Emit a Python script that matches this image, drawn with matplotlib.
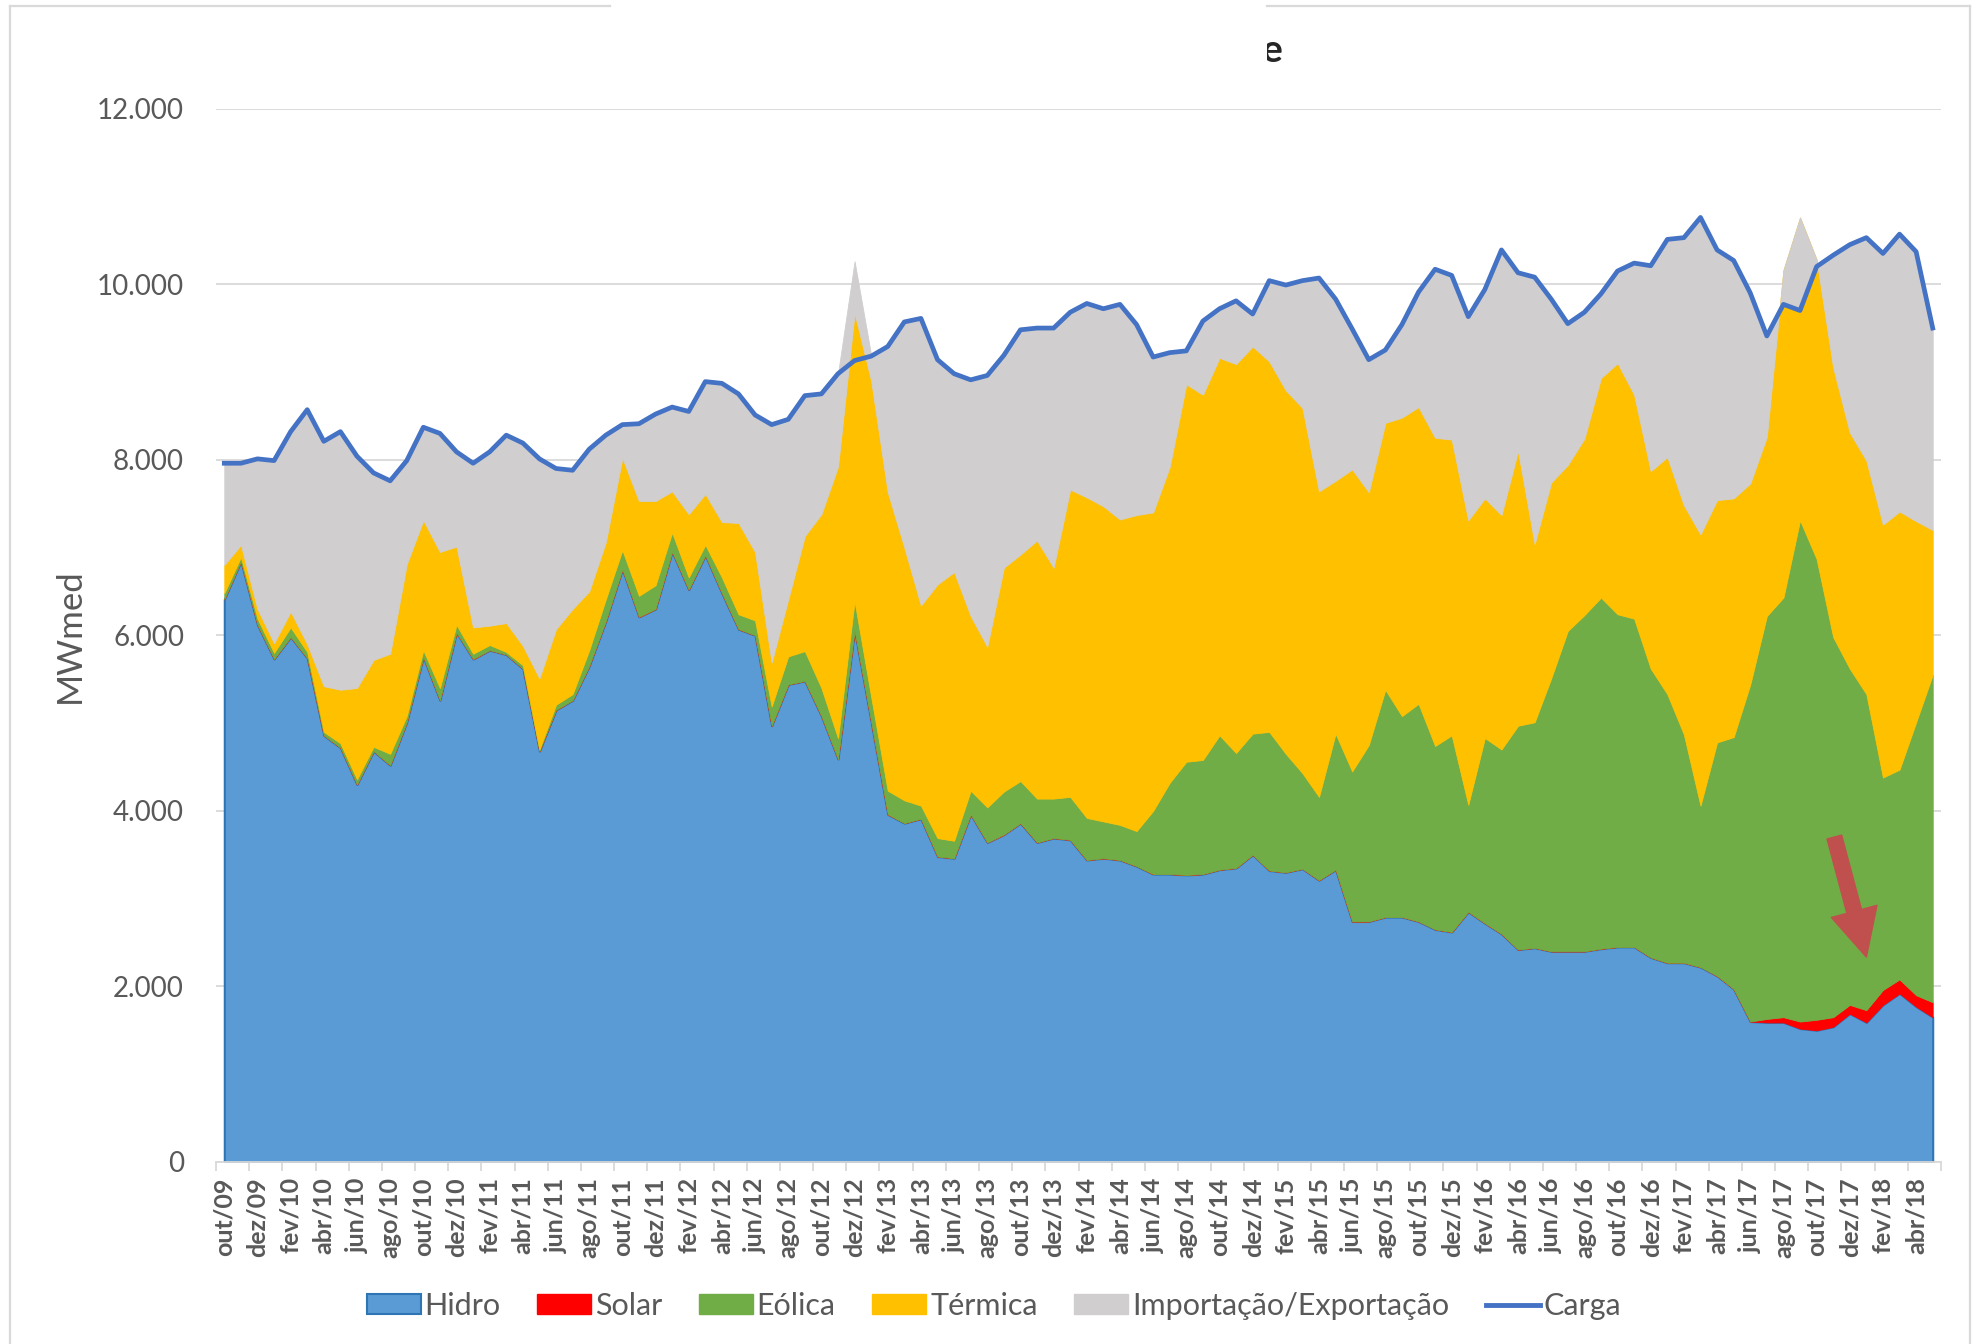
import matplotlib
matplotlib.use("Agg")
import matplotlib.pyplot as plt
from matplotlib.patches import Patch, Rectangle
from matplotlib.lines import Line2D
import numpy as np

plt.rcParams['font.family'] = ['Lato', 'DejaVu Sans']

# monthly values, out/09 .. mai/18 (MWmed)
meses = ['jan', 'fev', 'mar', 'abr', 'mai', 'jun', 'jul', 'ago', 'set', 'out', 'nov', 'dez']

hidro = [6410, 6840, 6120, 5730, 5980, 5740, 4860, 4720, 4300, 4680,
         4520, 5010, 5750, 5260, 6030, 5730, 5830, 5780, 5620, 4680,
         5150, 5260, 5650, 6160, 6750, 6210, 6300, 6950, 6520, 6910,
         6480, 6070, 6000, 4970, 5440, 5480, 5080, 4590, 6050, 5010,
         3960, 3860, 3910, 3480, 3460, 3960, 3640, 3730, 3860, 3640,
         3690, 3670, 3440, 3460, 3440, 3370, 3280, 3280, 3270, 3280,
         3330, 3350, 3500, 3320, 3300, 3340, 3210, 3330, 2740, 2740,
         2790, 2790, 2740, 2650, 2620, 2850, 2720, 2600, 2420, 2440,
         2400, 2400, 2400, 2430, 2450, 2450, 2330, 2270, 2270, 2220,
         2120, 1970, 1600, 1590, 1590, 1520, 1500, 1540, 1690, 1590,
         1790, 1920, 1770, 1650]

solar = [0] * 92 + [0, 40, 60, 80, 120, 110, 100, 140, 170, 160, 130, 170]

eolica = [70, 50, 70, 70, 110, 70, 40, 50, 60, 50,
          130, 70, 80, 140, 90, 60, 60, 30, 40, 20,
          60, 70, 180, 250, 220, 240, 270, 220, 140, 120,
          180, 170, 170, 220, 320, 340, 320, 240, 340, 290,
          270, 260, 150, 210, 200, 270, 400, 490, 480, 500,
          450, 490, 480, 420, 400, 400, 720, 1040, 1290, 1300,
          1530, 1310, 1380, 1580, 1350, 1090, 950, 1550, 1710, 2010,
          2590, 2290, 2480, 2090, 2240, 1220, 2110, 2100, 2550, 2570,
          3110, 3650, 3830, 4000, 3790, 3740, 3290, 3060, 2600, 1840,
          2660, 2870, 3840, 4590, 4780, 5710, 5250, 4330, 3830, 3600,
          2420, 2390, 3110, 3730]

termica = [320, 140, 110, 110, 180, 90, 520, 610, 1040, 990,
           1140, 1730, 1480, 1550, 890, 300, 220, 330, 220, 810,
           860, 970, 670, 650, 1050, 1080, 960, 470, 720, 580,
           630, 1040, 780, 500, 650, 1310, 1980, 3090, 3280, 3600,
           3400, 2880, 2280, 2890, 3060, 1990, 1830, 2550, 2580, 2940,
           2630, 3500, 3650, 3590, 3480, 3600, 3400, 3600, 4300, 4160,
           4300, 4430, 4410, 4220, 4140, 4160, 3480, 2880, 3440, 2880,
           3040, 3400, 3380, 3510, 3370, 3240, 2730, 2670, 3130, 2030,
           2230, 1890, 2010, 2500, 2860, 2550, 2250, 2700, 2610, 3090,
           2760, 2720, 2290, 2040, 3730, 3450, 3410, 3070, 2690, 2660,
           2880, 2940, 2290, 1650]

importacao = [1160, 920, 1700, 2080, 2050, 2660, 2790, 2940, 2640, 2120,
              1970, 1190, 1060, 1350, 1090, 1870, 1980, 2140, 2320, 2500,
              1830, 1580, 1610, 1220, 390, 890, 990, 970, 1170, 1280,
              1580, 1460, 1560, 2710, 2050, 1610, 1370, 1060, 590, 290,
              1650, 2570, 3270, 2570, 2260, 2690, 3090, 2420, 2570, 2420,
              2730, 2030, 2220, 2250, 2450, 2170, 1760, 1290, 380, 840,
              550, 720, 370, 920, 1210, 1450, 2430, 2070, 1600, 1510,
              830, 1060, 1310, 1930, 1870, 2320, 2370, 3020, 2030, 3040,
              2090, 1610, 1440, 960, 1040, 1490, 2340, 2480, 3040, 3610,
              2860, 2710, 2170, 1150, -390, -1070, -80, 1280, 2140, 2540,
              3090, 3160, 3070, 2300]

carga = [7960, 7960, 8010, 7990, 8320, 8570, 8210, 8320, 8040, 7850,
         7760, 7990, 8370, 8300, 8090, 7960, 8090, 8280, 8190, 8010,
         7900, 7880, 8120, 8280, 8400, 8410, 8520, 8600, 8550, 8890,
         8870, 8750, 8510, 8400, 8460, 8730, 8750, 8980, 9130, 9180,
         9290, 9570, 9610, 9140, 8980, 8910, 8960, 9190, 9480, 9500,
         9500, 9680, 9780, 9720, 9770, 9540, 9170, 9220, 9240, 9580,
         9720, 9810, 9660, 10040, 9990, 10040, 10070, 9830, 9490, 9140,
         9250, 9540, 9910, 10170, 10100, 9630, 9940, 10390, 10130, 10080,
         9830, 9550, 9680, 9890, 10150, 10240, 10210, 10510, 10530, 10760,
         10390, 10270, 9900, 9410, 9770, 9700, 10200, 10330, 10450, 10530,
         10350, 10570, 10370, 9500]

series_names = ['Hidro', 'Solar', 'Eólica', 'Térmica', 'Importação/Exportação']
cores = ['#5B9BD5', '#FF0000', '#70AD47', '#FFC000', '#D0CECE']

rotulos = [meses[(9 + i) % 12] + '/' + '%02d' % (((2009 * 12 + 9 + i) // 12) % 100)
           for i in range(len(carga))]

W, H = 1980, 1344
fig = plt.figure(figsize=(W / 100, H / 100), dpi=100)
ax = fig.add_axes([216 / W, 1 - 1162 / H, (1941 - 216) / W, (1162 - 108.6) / H])

x = np.arange(len(carga))
polys = ax.stackplot(x, hidro, solar, eolica, termica, importacao, colors=cores)
for p, c in zip(polys, cores):
    p.set_edgecolor(c)
    p.set_linewidth(0.6)
polys[0].set_edgecolor('#2E75B6')
polys[0].set_linewidth(1.5)

ax.plot(x, carga, color='#4472C4', lw=3.4, solid_joinstyle='round', zorder=5)

# red arrow pointing at the solar band
ax.annotate('', xy=(99.0, 2335), xytext=(97.07, 3702),
            arrowprops=dict(arrowstyle='simple,head_length=0.5,head_width=0.5,tail_width=0.16',
                            color='#C0504D', mutation_scale=68, shrinkA=0, shrinkB=0),
            zorder=6)

ax.set_xlim(-0.5, len(carga) - 0.5)
ax.set_ylim(0, 12000)
yt = list(range(0, 12001, 2000))
ax.set_yticks(yt)
ax.set_yticklabels(['{:,}'.format(v).replace(',', '.') for v in yt])
ax.tick_params(axis='y', length=0, pad=23, labelsize=20, labelcolor='#595959')
ax.grid(axis='y', color='#D9D9D9', lw=1.3)
ax.set_axisbelow(True)

ax.set_xticks(x[::2])
ax.set_xticklabels(rotulos[::2], rotation=90, fontweight='bold', fontsize=18, color='#595959')
ax.set_xticks(np.arange(-0.5, len(carga), 2), minor=True)
ax.tick_params(axis='x', which='major', length=0, pad=11)
ax.tick_params(axis='x', which='minor', length=6.5, width=1.3, color='#D9D9D9')

for s in ['top', 'right', 'left']:
    ax.spines[s].set_visible(False)
ax.spines['bottom'].set_color('#D9D9D9')
ax.spines['bottom'].set_linewidth(1.3)

fig.text(69.5 / W, 1 - 636 / H, 'MWmed', rotation=90, ha='center', va='center',
         fontsize=25, color='#595959')

handles = [Patch(facecolor=cores[0], edgecolor='#2E75B6', linewidth=1.5)]
handles += [Patch(facecolor=c, edgecolor=c) for c in cores[1:]]
handles.append(Line2D([0], [0], color='#4472C4', lw=3.5))
fig.legend(handles, series_names + ['Carga'], loc='center', bbox_to_anchor=(994 / W, 1 - 1306 / H),
           ncol=6, frameon=False, fontsize=22, handlelength=1.77, handleheight=0.65,
           handletextpad=0.12, columnspacing=1.2, labelcolor='#595959')

# chart frame (title area covered by a white box, only its last letter shows)
fig.text(1283 / W, 1 - 51 / H, 'e', ha='right', va='center', fontsize=28,
         fontweight='bold', color='#262626')
fig.add_artist(Rectangle((610 / W, 1 - 90 / H), (1267 - 610) / W, 90 / H,
                         transform=fig.transFigure, facecolor='white', edgecolor='none', zorder=10))
frame = dict(color='#D9D9D9', lw=1.6, transform=fig.transFigure, zorder=11)
fig.add_artist(Line2D([10 / W, 10 / W], [0, 1 - 6 / H], **frame))
fig.add_artist(Line2D([1970 / W, 1970 / W], [0, 1 - 6 / H], **frame))
fig.add_artist(Line2D([10 / W, 610 / W], [1 - 6 / H, 1 - 6 / H], **frame))
fig.add_artist(Line2D([1267 / W, 1970 / W], [1 - 6 / H, 1 - 6 / H], **frame))

fig.savefig('out.png', dpi=100)
